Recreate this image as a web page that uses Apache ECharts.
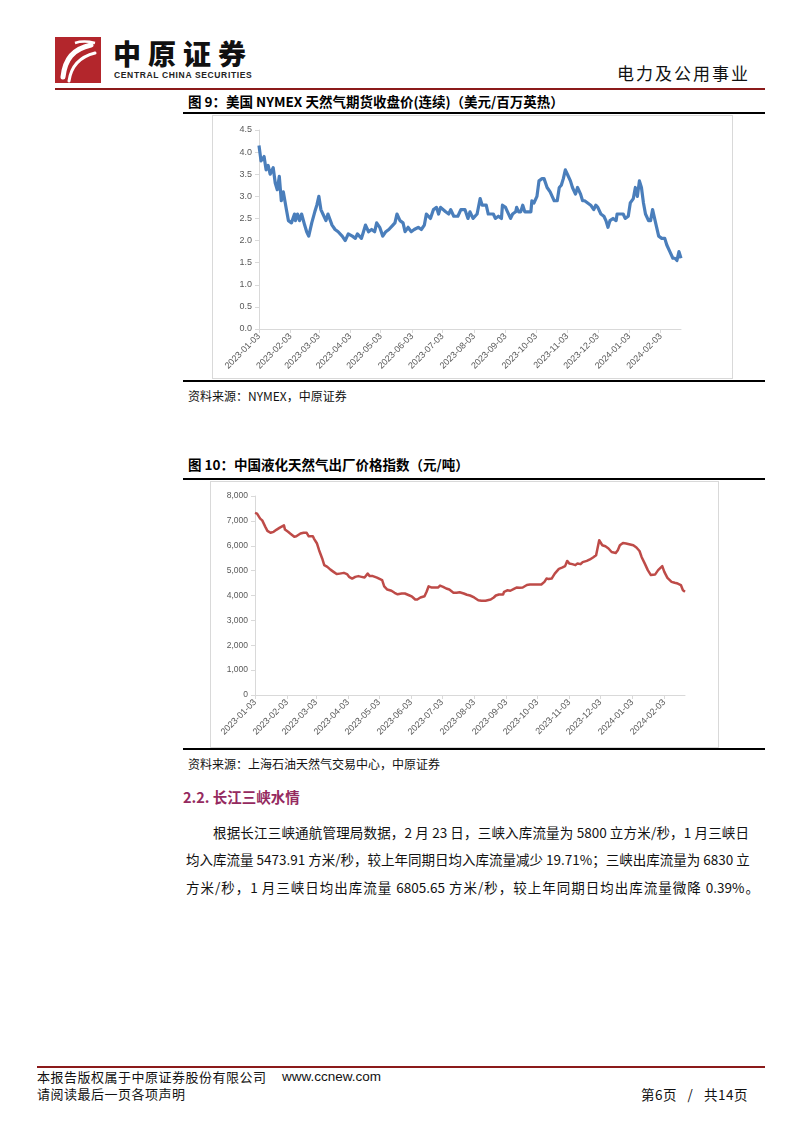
<!DOCTYPE html>
<html><head><meta charset="utf-8">
<script src="https://cdn.jsdelivr.net/npm/echarts@6/dist/echarts.min.js"></script>
<style>
html,body{margin:0;padding:0;background:#fff;}
body{width:802px;height:1133px;position:relative;overflow:hidden;font-family:"Noto Sans CJK SC","Noto Sans",sans-serif;color:#000;}
.abs{position:absolute;white-space:nowrap;line-height:1.2;}
.hline{position:absolute;height:2px;background:#000;}
.ftitle{font-size:13.5px;font-weight:bold;}
.src{font-size:12px;color:#111;}
.para{font-size:13.5px;color:#111;text-align:justify;text-align-last:justify;white-space:nowrap;}
.box{position:absolute;border:1px solid #d9d9d9;background:#fff;}
</style></head>
<body>
<!-- header -->
<svg class="abs" style="left:55px;top:37px" width="46" height="46" viewBox="0 0 46 46">
  <rect x="0" y="0" width="46" height="46" fill="#b3262c"/>
  <path d="M8 40 C10 22 18 12 36 8" stroke="#fff" stroke-width="5" fill="none" stroke-linecap="round"/>
  <path d="M14 44 C16 30 24 20 40 16" stroke="#fff" stroke-width="3" fill="none" stroke-linecap="round"/>
  <path d="M20 6 C26 4 32 4 40 6" stroke="#fff" stroke-width="2.5" fill="none"/>
</svg>
<div class="abs" style="left:113px;top:38px;font-size:28px;line-height:30px;font-weight:900;letter-spacing:7px;color:#111;">中原证券</div>
<div class="abs" style="left:114px;top:70px;font-size:8.5px;line-height:10px;font-weight:bold;color:#222;font-family:'Liberation Sans',sans-serif;letter-spacing:0.65px;">CENTRAL CHINA SECURITIES</div>
<div class="abs" style="left:617px;top:63px;font-size:17px;letter-spacing:2px;color:#111;">电力及公用事业</div>
<div class="hline" style="left:55px;top:88px;width:710px;background:#8b1a1a;"></div>

<!-- figure 9 -->
<div class="abs ftitle" style="left:188px;top:93px;">图 9：美国 NYMEX 天然气期货收盘价(连续)（美元/百万英热）</div>
<div class="hline" style="left:183px;top:112px;width:582px;"></div>
<div class="box" style="left:212px;top:115px;width:519px;height:262px;"></div>
<div id="c1" class="abs" style="left:212px;top:115px;width:520px;height:263px;"></div>
<div class="hline" style="left:183px;top:380px;width:582px;"></div>
<div class="abs src" style="left:188px;top:389px;">资料来源：NYMEX，中原证券</div>

<!-- figure 10 -->
<div class="abs ftitle" style="left:188px;top:456px;">图 10：中国液化天然气出厂价格指数（元/吨）</div>
<div class="hline" style="left:183px;top:478px;width:582px;"></div>
<div class="box" style="left:210px;top:481px;width:507px;height:265px;"></div>
<div id="c2" class="abs" style="left:210px;top:481px;width:508px;height:266px;"></div>
<div class="hline" style="left:183px;top:748px;width:582px;"></div>
<div class="abs src" style="left:188px;top:757px;">资料来源：上海石油天然气交易中心，中原证券</div>

<div class="abs" style="left:183px;top:788px;font-size:14.5px;font-weight:bold;color:#952a5f;">2.2. 长江三峡水情</div>

<div class="abs para" style="left:213px;top:824px;width:536px;">根据长江三峡通航管理局数据，2 月 23 日，三峡入库流量为 5800 立方米/秒，1 月三峡日</div>
<div class="abs para" style="left:186px;top:851px;width:563px;">均入库流量 5473.91 方米/秒，较上年同期日均入库流量减少 19.71%；三峡出库流量为 6830 立</div>
<div class="abs para" style="left:186px;top:879px;width:573px;">方米/秒，1 月三峡日均出库流量 6805.65 方米/秒，较上年同期日均出库流量微降 0.39%。</div>

<!-- footer -->
<div class="hline" style="left:37px;top:1066px;width:728px;background:#8b1a1a;"></div>
<div class="abs" style="left:37px;top:1069px;font-size:13px;letter-spacing:0.5px;color:#111;">本报告版权属于中原证券股份有限公司</div>
<div class="abs" style="left:282px;top:1069px;font-size:13.5px;color:#111;font-family:'Liberation Sans',sans-serif;">www.ccnew.com</div>
<div class="abs" style="left:37px;top:1086px;font-size:13px;letter-spacing:0.5px;color:#111;">请阅读最后一页各项声明</div>
<div class="abs" style="left:641px;top:1086px;font-size:13.5px;color:#111;letter-spacing:0.5px;">第6页&nbsp;&nbsp;&nbsp;/&nbsp;&nbsp;&nbsp;共14页</div>

<script>
// ---- data ----
const monthTicks = ['2023-01-03','2023-02-03','2023-03-03','2023-04-03','2023-05-03','2023-06-03','2023-07-03','2023-08-03','2023-09-03','2023-10-03','2023-11-03','2023-12-03','2024-01-03','2024-02-03'];
const axisStart = '2023-01-03';
const axisEnd = '2024-02-23';

const ngDates = ['2023-01-03','2023-01-05','2023-01-08','2023-01-10','2023-01-12','2023-01-14','2023-01-17','2023-01-19','2023-01-21','2023-01-23','2023-01-25','2023-01-27','2023-01-30','2023-02-01','2023-02-04','2023-02-07','2023-02-08','2023-02-10','2023-02-12','2023-02-14','2023-02-17','2023-02-19','2023-02-21','2023-02-24','2023-02-27','2023-03-01','2023-03-03','2023-03-05','2023-03-07','2023-03-10','2023-03-12','2023-03-16','2023-03-19','2023-03-22','2023-03-26','2023-03-29','2023-04-01','2023-04-05','2023-04-08','2023-04-10','2023-04-14','2023-04-16','2023-04-18','2023-04-21','2023-04-24','2023-04-27','2023-04-29','2023-05-02','2023-05-05','2023-05-08','2023-05-11','2023-05-15','2023-05-17','2023-05-19','2023-05-22','2023-05-25','2023-05-27','2023-05-30','2023-06-02','2023-06-05','2023-06-09','2023-06-12','2023-06-15','2023-06-17','2023-06-21','2023-06-24','2023-06-27','2023-06-29','2023-07-01','2023-07-06','2023-07-09','2023-07-11','2023-07-14','2023-07-18','2023-07-21','2023-07-25','2023-07-28','2023-07-30','2023-08-02','2023-08-06','2023-08-09','2023-08-11','2023-08-15','2023-08-17','2023-08-22','2023-08-24','2023-08-27','2023-08-30','2023-08-31','2023-09-03','2023-09-05','2023-09-08','2023-09-10','2023-09-13','2023-09-14','2023-09-16','2023-09-18','2023-09-20','2023-09-22','2023-09-25','2023-09-28','2023-09-29','2023-10-01','2023-10-04','2023-10-06','2023-10-09','2023-10-11','2023-10-14','2023-10-17','2023-10-19','2023-10-21','2023-10-24','2023-10-26','2023-10-28','2023-10-30','2023-11-01','2023-11-03','2023-11-06','2023-11-08','2023-11-11','2023-11-13','2023-11-16','2023-11-18','2023-11-20','2023-11-23','2023-11-26','2023-11-29','2023-12-01','2023-12-03','2023-12-06','2023-12-09','2023-12-11','2023-12-13','2023-12-15','2023-12-18','2023-12-21','2023-12-22','2023-12-25','2023-12-28','2023-12-30','2024-01-02','2024-01-04','2024-01-07','2024-01-09','2024-01-11','2024-01-13','2024-01-15','2024-01-17','2024-01-19','2024-01-22','2024-01-24','2024-01-26','2024-01-27','2024-01-30','2024-02-01','2024-02-04','2024-02-07','2024-02-09','2024-02-12','2024-02-15','2024-02-17','2024-02-19','2024-02-21','2024-02-23'];
const ngValues = [4.15,3.80,3.90,3.60,3.70,3.50,3.65,3.30,3.15,3.45,2.90,3.10,2.70,2.45,2.40,2.60,2.45,2.60,2.45,2.60,2.35,2.20,2.10,2.40,2.65,2.80,3.00,2.70,2.60,2.45,2.60,2.35,2.25,2.20,2.10,2.00,2.15,2.10,2.05,2.15,2.05,2.20,2.35,2.20,2.25,2.20,2.40,2.30,2.10,2.20,2.25,2.35,2.40,2.60,2.45,2.40,2.20,2.30,2.20,2.25,2.30,2.25,2.35,2.60,2.50,2.70,2.75,2.60,2.75,2.65,2.60,2.70,2.55,2.55,2.70,2.70,2.50,2.65,2.50,2.60,2.95,2.80,2.80,2.60,2.60,2.50,2.55,2.50,2.80,2.75,2.65,2.50,2.60,2.65,2.75,2.65,2.65,2.80,2.65,2.65,2.65,2.90,2.85,3.00,3.35,3.40,3.40,3.20,3.10,3.00,2.90,2.90,3.20,3.25,3.40,3.60,3.50,3.35,3.20,3.05,3.20,3.05,2.90,2.90,2.85,2.80,2.70,2.80,2.75,2.60,2.55,2.45,2.30,2.45,2.50,2.45,2.60,2.60,2.60,2.50,2.55,2.85,2.95,3.20,3.00,3.35,3.20,2.85,2.60,2.45,2.45,2.70,2.60,2.30,2.10,2.05,2.05,1.90,1.75,1.60,1.60,1.55,1.75,1.60];

const lngDates = ['2023-01-03','2023-01-05','2023-01-08','2023-01-10','2023-01-13','2023-01-15','2023-01-18','2023-01-21','2023-01-24','2023-01-27','2023-01-31','2023-02-01','2023-02-04','2023-02-06','2023-02-10','2023-02-12','2023-02-16','2023-02-19','2023-02-22','2023-02-24','2023-02-28','2023-03-01','2023-03-04','2023-03-06','2023-03-09','2023-03-11','2023-03-14','2023-03-17','2023-03-20','2023-03-23','2023-03-26','2023-03-30','2023-04-02','2023-04-04','2023-04-07','2023-04-10','2023-04-13','2023-04-16','2023-04-19','2023-04-22','2023-04-24','2023-04-27','2023-05-01','2023-05-03','2023-05-06','2023-05-08','2023-05-11','2023-05-15','2023-05-18','2023-05-21','2023-05-25','2023-05-28','2023-06-01','2023-06-04','2023-06-07','2023-06-09','2023-06-12','2023-06-16','2023-06-18','2023-06-20','2023-06-23','2023-06-26','2023-06-29','2023-07-01','2023-07-04','2023-07-07','2023-07-10','2023-07-14','2023-07-17','2023-07-20','2023-07-24','2023-07-27','2023-07-30','2023-08-03','2023-08-07','2023-08-10','2023-08-14','2023-08-19','2023-08-22','2023-08-24','2023-08-27','2023-08-31','2023-09-01','2023-09-04','2023-09-07','2023-09-11','2023-09-13','2023-09-16','2023-09-19','2023-09-23','2023-09-26','2023-09-29','2023-10-03','2023-10-07','2023-10-10','2023-10-12','2023-10-14','2023-10-17','2023-10-20','2023-10-24','2023-10-27','2023-10-30','2023-11-01','2023-11-03','2023-11-06','2023-11-09','2023-11-11','2023-11-14','2023-11-16','2023-11-20','2023-11-23','2023-11-26','2023-11-29','2023-11-30','2023-12-02','2023-12-03','2023-12-05','2023-12-08','2023-12-11','2023-12-14','2023-12-18','2023-12-20','2023-12-22','2023-12-25','2023-12-28','2023-12-31','2024-01-04','2024-01-07','2024-01-10','2024-01-12','2024-01-15','2024-01-18','2024-01-21','2024-01-25','2024-01-28','2024-02-01','2024-02-03','2024-02-06','2024-02-10','2024-02-13','2024-02-16','2024-02-19','2024-02-21','2024-02-23'];
const lngValues = [7320,7290,7090,7020,6760,6600,6520,6560,6650,6730,6820,6650,6560,6490,6360,6380,6490,6520,6520,6380,6380,6290,6090,5820,5490,5220,5150,5040,4950,4860,4880,4910,4860,4750,4680,4750,4780,4750,4720,4880,4780,4780,4720,4680,4620,4370,4240,4190,4110,4050,4080,4080,4010,3950,3840,3840,3920,3970,4150,4370,4320,4320,4320,4400,4350,4280,4240,4110,4110,4130,4080,4030,4000,3920,3810,3790,3790,3840,3920,4000,4040,4040,4150,4210,4190,4280,4320,4310,4320,4420,4440,4440,4440,4440,4550,4680,4660,4680,4880,5070,5120,5180,5390,5290,5260,5220,5290,5260,5340,5390,5450,5530,5620,5820,6220,6150,6020,5980,5890,5750,5710,5820,6020,6110,6090,6060,6020,5930,5790,5550,5290,5020,4820,4840,5020,5180,4950,4710,4550,4510,4480,4420,4210,4150];

// ---- helpers ----
function ts(s){const p=s.split('-');return Date.UTC(+p[0],+p[1]-1,+p[2]);}
function fmtDate(v){const d=new Date(v);const m=d.getUTCMonth()+1,dd=d.getUTCDate();return d.getUTCFullYear()+'-'+(m<10?'0':'')+m+'-'+(dd<10?'0':'')+dd;}
const tickVals = monthTicks.map(ts);
const labelColor = '#595959';
const axisLineColor = '#d9d9d9';

function makeOption(dates, values, color, width, grid, yMax, yInt, yFmt, yFont){
  return {
    animation:false,
    grid:grid,
    xAxis:{
      type:'value', min:ts(axisStart), max:ts(axisEnd), scale:true,
      axisLine:{show:true,lineStyle:{color:axisLineColor,width:1}},
      axisTick:{show:true,length:4,lineStyle:{color:axisLineColor},customValues:tickVals},
      axisLabel:{customValues:tickVals,rotate:45,fontSize:9,color:labelColor,margin:6,showMinLabel:true,showMaxLabel:true,
        fontFamily:'Liberation Sans, Arial, sans-serif',formatter:function(v){return fmtDate(v);},hideOverlap:false},
      splitLine:{show:false}
    },
    yAxis:{
      type:'value', min:0, max:yMax, interval:yInt,
      axisLine:{show:true,lineStyle:{color:axisLineColor,width:1}},
      axisTick:{show:true,length:4,lineStyle:{color:axisLineColor}},
      axisLabel:{fontSize:yFont,color:labelColor,margin:7,fontFamily:'Liberation Sans, Arial, sans-serif',formatter:yFmt},
      splitLine:{show:false}
    },
    series:[{
      type:'line', showSymbol:false, smooth:false,
      data:dates.map((d,i)=>[ts(d),values[i]]),
      lineStyle:{color:color,width:width,join:'round'},
      itemStyle:{color:color}
    }]
  };
}

const c1 = echarts.init(document.getElementById('c1'),null,{renderer:'canvas'});
c1.setOption(makeOption(ngDates, ngValues, '#4a7ebb', 3.2,
  {left:47,right:51,top:15,bottom:49},
  4.5, 0.5, function(v){return v.toFixed(1);}, 9));

const c2 = echarts.init(document.getElementById('c2'),null,{renderer:'canvas'});
c2.setOption(makeOption(lngDates, lngValues, '#be4b48', 2.5,
  {left:45,right:33,top:15,bottom:52},
  8000, 1000, function(v){return v.toLocaleString('en-US');}, 8.5));
</script>
</body></html>
